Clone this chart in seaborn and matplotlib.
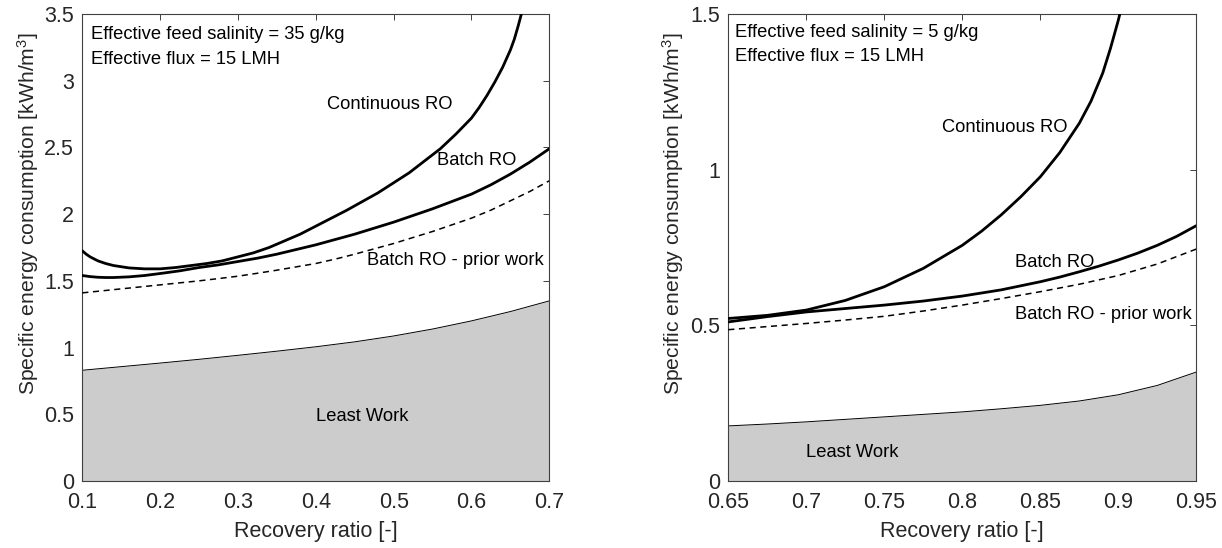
import numpy as np
import pandas as pd
import matplotlib
matplotlib.use("Agg")
import matplotlib.pyplot as plt
import seaborn as sns
from matplotlib.ticker import FuncFormatter

# ---------------- data: left panel (35 g/kg) ----------------
L_cont_x = [0.10, 0.105, 0.11, 0.12, 0.13, 0.14, 0.16, 0.18, 0.20, 0.22, 0.24, 0.26, 0.28,
            0.30, 0.32, 0.34, 0.36, 0.38, 0.40, 0.42, 0.44, 0.46, 0.48, 0.50, 0.52, 0.54,
            0.56, 0.58, 0.60, 0.61, 0.62, 0.63, 0.64, 0.65, 0.655, 0.66, 0.665]
L_cont_y = [1.725, 1.70, 1.68, 1.65, 1.63, 1.615, 1.597, 1.59, 1.59, 1.60, 1.615, 1.63, 1.65,
            1.68, 1.71, 1.75, 1.80, 1.85, 1.91, 1.97, 2.03, 2.095, 2.16, 2.235, 2.31, 2.40,
            2.49, 2.60, 2.72, 2.80, 2.89, 2.99, 3.10, 3.23, 3.31, 3.41, 3.52]
L_batch_x = [0.10, 0.11, 0.12, 0.13, 0.14, 0.16, 0.18, 0.20, 0.225, 0.25, 0.275, 0.30, 0.325,
             0.35, 0.375, 0.40, 0.425, 0.45, 0.475, 0.50, 0.525, 0.55, 0.575, 0.60, 0.625,
             0.65, 0.675, 0.70]
L_batch_y = [1.54, 1.532, 1.527, 1.525, 1.525, 1.530, 1.54, 1.555, 1.575, 1.60, 1.62, 1.645,
             1.67, 1.70, 1.735, 1.77, 1.81, 1.85, 1.895, 1.94, 1.99, 2.04, 2.095, 2.15, 2.22,
             2.30, 2.39, 2.49]
L_prior_x = [0.10, 0.125, 0.15, 0.175, 0.20, 0.225, 0.25, 0.275, 0.30, 0.325, 0.35, 0.375,
             0.40, 0.425, 0.45, 0.475, 0.50, 0.525, 0.55, 0.575, 0.60, 0.625, 0.65, 0.675, 0.70]
L_prior_y = [1.41, 1.425, 1.44, 1.455, 1.47, 1.485, 1.50, 1.517, 1.535, 1.557, 1.58, 1.605,
             1.63, 1.663, 1.70, 1.74, 1.78, 1.825, 1.87, 1.92, 1.97, 2.03, 2.10, 2.17, 2.25]
L_least_x = [0.10, 0.15, 0.20, 0.25, 0.30, 0.35, 0.40, 0.45, 0.50, 0.55, 0.60, 0.65, 0.70]
L_least_y = [0.83, 0.857, 0.884, 0.912, 0.942, 0.973, 1.006, 1.043, 1.087, 1.139, 1.20, 1.27, 1.35]

# ---------------- data: right panel (5 g/kg) ----------------
R_cont_x = [0.65, 0.675, 0.70, 0.725, 0.75, 0.775, 0.80, 0.8125, 0.825, 0.8375, 0.85, 0.8625,
            0.875, 0.8825, 0.89, 0.895, 0.90, 0.902]
R_cont_y = [0.522, 0.532, 0.549, 0.580, 0.624, 0.683, 0.757, 0.803, 0.855, 0.913, 0.977, 1.055,
            1.149, 1.22, 1.31, 1.39, 1.48, 1.52]
R_batch_x = [0.65, 0.675, 0.70, 0.725, 0.75, 0.775, 0.80, 0.825, 0.85, 0.8625, 0.875, 0.8875,
             0.90, 0.9125, 0.925, 0.9375, 0.95]
R_batch_y = [0.511, 0.528, 0.543, 0.554, 0.565, 0.578, 0.594, 0.614, 0.64, 0.655, 0.672, 0.69,
             0.71, 0.732, 0.757, 0.786, 0.82]
R_prior_x = [0.65, 0.675, 0.70, 0.725, 0.75, 0.775, 0.80, 0.825, 0.85, 0.875, 0.90, 0.925, 0.95]
R_prior_y = [0.486, 0.496, 0.506, 0.517, 0.529, 0.546, 0.565, 0.586, 0.608, 0.632, 0.66, 0.697, 0.745]
R_least_x = [0.65, 0.675, 0.70, 0.725, 0.75, 0.775, 0.80, 0.825, 0.85, 0.875, 0.90, 0.925, 0.95]
R_least_y = [0.177, 0.183, 0.19, 0.198, 0.206, 0.214, 0.222, 0.232, 0.243, 0.257, 0.277, 0.307, 0.35]

L_xticks = [0.1, 0.2, 0.3, 0.4, 0.5, 0.6, 0.7]
L_yticks = [0, 0.5, 1, 1.5, 2, 2.5, 3, 3.5]
R_xticks = [0.65, 0.7, 0.75, 0.8, 0.85, 0.9, 0.95]
R_yticks = [0, 0.5, 1, 1.5]

labels = ["Continuous RO", "Batch RO", "Batch RO - prior work", "Least Work"]
L_info = ["Effective feed salinity = 35 g/kg", "Effective flux = 15 LMH"]
R_info = ["Effective feed salinity = 5 g/kg", "Effective flux = 15 LMH"]

sns.set_style("white")
plt.rcParams['font.family'] = ['Liberation Sans', 'DejaVu Sans']
plt.rcParams['mathtext.fontset'] = 'custom'
plt.rcParams['mathtext.rm'] = 'Liberation Sans'
plt.rcParams['mathtext.it'] = 'Liberation Sans'

TXT = '#262626'
fig = plt.figure(figsize=(12.22, 5.48), dpi=100)
axL = fig.add_axes([82.3 / 1222, 67 / 548, 467 / 1222, 467 / 548])
axR = fig.add_axes([728.3 / 1222, 67 / 548, 468 / 1222, 467 / 548])

fmt = FuncFormatter(lambda v, p: ('%g' % round(v, 4)))


def draw(ax, cx, cy, bx, by, px, py, lx, ly, xlim, ylim, xt, yt, info, lab_pos, info_pos,
         ylab_x):
    ax.fill_between(lx, 0, ly, color='#cccccc', linewidth=0, zorder=1)
    sns.lineplot(x=lx, y=ly, ax=ax, color='black', linewidth=0.7, zorder=2)
    sns.lineplot(x=px, y=py, ax=ax, color='black', linewidth=1.1, zorder=3)
    ax.lines[-1].set_dashes([4, 3])
    sns.lineplot(x=bx, y=by, ax=ax, color='black', linewidth=2.0, zorder=4)
    sns.lineplot(x=cx, y=cy, ax=ax, color='black', linewidth=2.0, zorder=4)
    for ln in ax.lines:
        ln.set_clip_on(True)
        ln.set_solid_joinstyle('round')
    ax.set_xlim(*xlim)
    ax.set_ylim(*ylim)
    ax.set_xticks(xt)
    ax.set_yticks(yt)
    ax.xaxis.set_major_formatter(fmt)
    ax.yaxis.set_major_formatter(fmt)
    ax.tick_params(direction='in', length=4, width=0.7, colors='#404040',
                   labelcolor=TXT, labelsize=15.5, top=True, right=True)
    ax.tick_params(axis='x', pad=8)
    ax.tick_params(axis='y', pad=6)
    for s in ax.spines.values():
        s.set_color('#404040')
        s.set_linewidth(0.8)
        s.set_visible(True)
    ax.set_xlabel('Recovery ratio [-]', fontsize=15.5, color=TXT, labelpad=6)
    ax.set_ylabel('Specific energy consumption [kWh/m$^3$]', fontsize=15.2, color=TXT)
    ax.yaxis.set_label_coords(ylab_x, 0.572)
    for lab, (x, y) in zip(labels, lab_pos):
        ax.text(x, y, lab, fontsize=13.2, color='black', ha='left', va='center', zorder=5)
    ax.text(info_pos[0], info_pos[1], info[0], fontsize=13.2, color='black',
            ha='left', va='center', zorder=5)
    ax.text(info_pos[0], info_pos[2], info[1], fontsize=13.2, color='black',
            ha='left', va='center', zorder=5)
    ax.grid(False)


draw(axL, L_cont_x, L_cont_y, L_batch_x, L_batch_y, L_prior_x, L_prior_y,
     L_least_x, L_least_y, (0.1, 0.7), (0, 3.5), L_xticks, L_yticks, L_info,
     [(0.4145, 2.82), (0.556, 2.40), (0.466, 1.65), (0.400, 0.487)],
     (0.111, 3.343, 3.156), -0.088)
draw(axR, R_cont_x, R_cont_y, R_batch_x, R_batch_y, R_prior_x, R_prior_y,
     R_least_x, R_least_y, (0.65, 0.95), (0, 1.5), R_xticks, R_yticks, R_info,
     [(0.787, 1.137), (0.834, 0.703), (0.834, 0.536), (0.700, 0.093)],
     (0.654, 1.442, 1.365), -0.09)

fig.savefig('out.png', dpi=100)
